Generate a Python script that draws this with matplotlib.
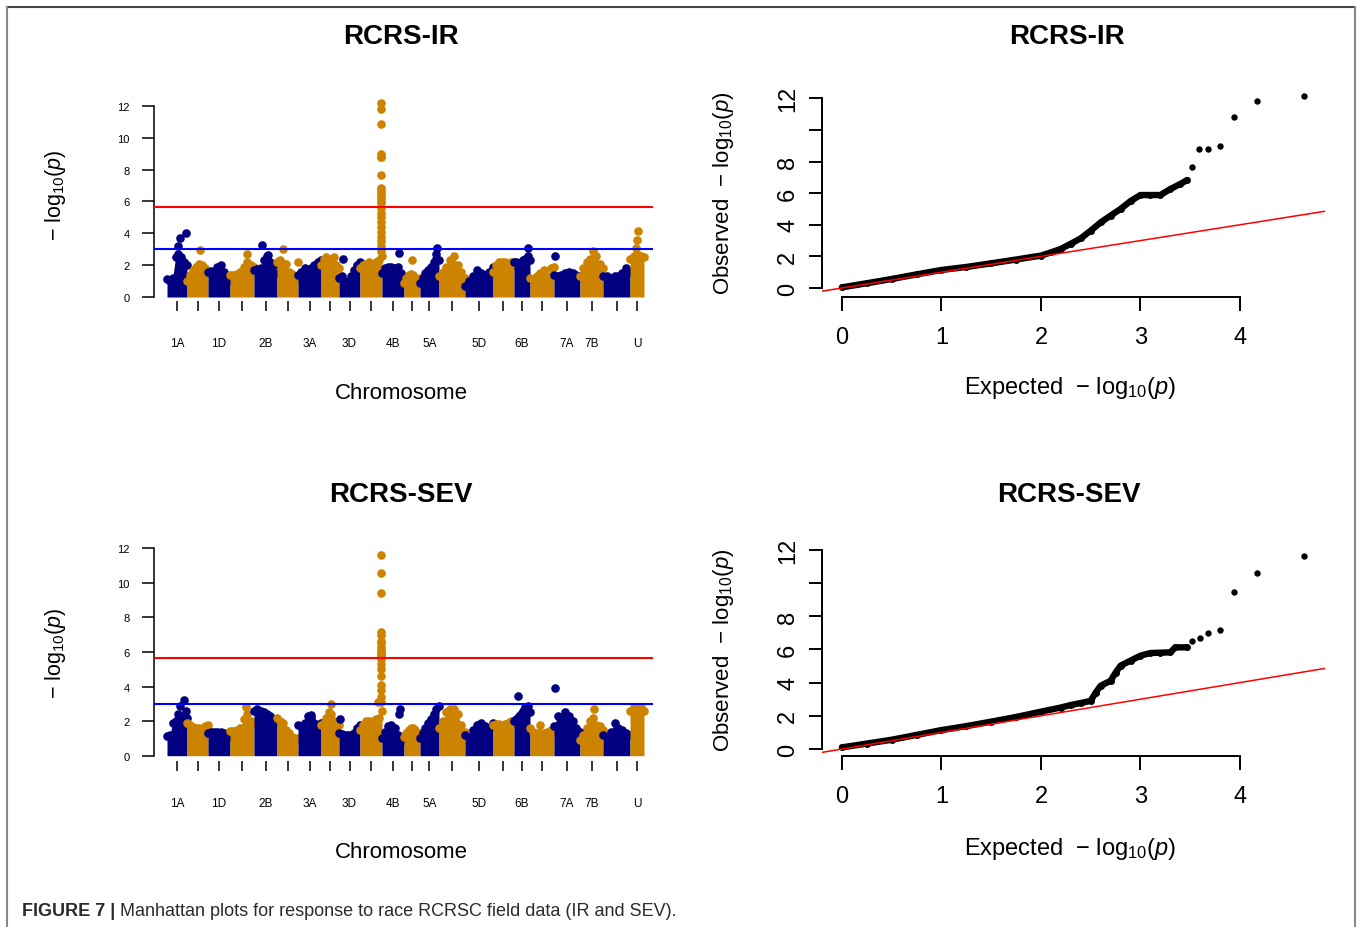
import numpy as np
import matplotlib
matplotlib.use("Agg")
import matplotlib.pyplot as plt
from matplotlib.lines import Line2D

plt.rcParams["font.family"] = ["Liberation Sans", "DejaVu Sans"]
plt.rcParams["mathtext.fontset"] = "custom"
plt.rcParams["mathtext.rm"] = "Liberation Sans"
plt.rcParams["mathtext.it"] = "Liberation Sans:italic"
plt.rcParams["mathtext.bf"] = "Liberation Sans:bold"

# chromosomes and their relative marker spans
chroms = ["1A", "1B", "1D", "2A", "2B", "2D", "3A", "3B", "3D", "4A", "4B",
          "4D", "5A", "5B", "5D", "6A", "6B", "6D", "7A", "7B", "7D", "U"]
chrom_span = [20, 21, 22, 24, 23, 21, 23, 18, 21, 22, 22,
              16, 19, 26, 28, 21, 16, 24, 26, 23, 27, 14]
chrom_ticklabels = ["1A", "", "1D", "", "2B", "", "3A", "", "3D", "", "4B",
                    "", "5A", "", "5D", "", "6B", "", "7A", "7B", "", "U"]

suggestive = 3.0
genomewide = 5.64

# RCRS-IR: upper envelope of each chromosome, left to right
ir_profile = [
    [1.1, 1.0, 1.2, 2.5, 2.7, 2.5, 2.2, 2.0],
    [1.0, 1.4, 1.7, 1.9, 2.1, 2.0, 1.8, 1.6],
    [1.6, 1.65, 1.6, 1.9, 2.0, 1.6, 1.2, 1.0],
    [1.4, 1.4, 1.45, 1.6, 1.9, 2.2, 2.0, 1.9],
    [1.7, 1.75, 1.8, 2.3, 2.6, 2.2, 2.0, 1.5],
    [2.2, 2.3, 2.1, 2.1, 1.6, 1.45, 1.3, 1.2],
    [1.4, 1.6, 1.8, 1.7, 1.8, 2.0, 2.2, 2.3],
    [2.0, 2.4, 2.5, 2.0, 2.4, 2.5, 2.0, 1.8],
    [1.2, 1.3, 1.0, 0.8, 1.3, 1.7, 2.0, 2.2],
    [1.8, 2.0, 2.1, 2.2, 2.1, 2.2, 2.3, 2.6],
    [1.5, 1.8, 1.9, 1.9, 1.8, 1.9, 1.5, 1.2],
    [0.9, 1.2, 1.4, 1.45, 1.4, 1.2, 1.1, 1.2],
    [0.9, 1.2, 1.5, 1.7, 1.9, 2.2, 2.4, 2.3],
    [1.3, 1.6, 1.9, 2.3, 2.6, 2.0, 1.6, 1.2],
    [0.7, 1.0, 1.3, 1.7, 1.5, 1.4, 1.6, 1.9],
    [1.6, 2.0, 2.2, 2.2, 2.2, 2.1, 2.2, 2.0],
    [2.2, 2.2, 2.1, 2.2, 2.3, 2.4, 2.6, 2.3],
    [1.2, 1.1, 1.3, 1.5, 1.7, 1.3, 1.8, 1.9],
    [1.4, 1.3, 1.4, 1.5, 1.6, 1.5, 1.4, 1.3],
    [1.3, 1.8, 2.2, 2.4, 2.9, 2.6, 2.1, 1.8],
    [1.3, 1.3, 1.2, 1.3, 1.3, 1.5, 1.8, 1.6],
    [2.4, 2.6, 2.7, 2.6, 2.5],
]
# isolated markers: (chromosome, relative position, -log10 p)
ir_hits = [("1A", 0.55, 3.2), ("1A", 0.65, 3.7), ("1A", 0.95, 4.05),
           ("1B", 0.6, 2.95), ("2A", 0.7, 2.7), ("2B", 0.35, 3.25),
           ("2B", 0.6, 2.65), ("2D", 0.3, 3.0), ("2D", 0.98, 2.2),
           ("3D", 0.2, 2.4), ("4B", 0.75, 2.75), ("4D", 0.5, 2.35),
           ("5A", 0.85, 2.7), ("5A", 0.92, 3.05), ("6B", 0.85, 3.05),
           ("7A", 0.05, 2.6), ("U", 0.4, 3.05), ("U", 0.5, 3.6),
           ("U", 0.6, 4.15)]
ir_peak_chrom, ir_peak_pos = "4A", 0.97
ir_peak_values = [12.17, 11.81, 10.84, 9.0, 8.77, 8.77, 7.68, 6.83, 6.7,
                  6.55, 6.4, 6.2, 6.0, 5.88, 5.6, 5.3, 5.0, 4.7, 4.4, 4.1,
                  3.8, 3.5, 3.2, 2.9]

# RCRS-SEV
sev_profile = [
    [1.15, 1.2, 1.9, 2.0, 2.1, 2.0, 2.3, 2.2],
    [1.9, 1.8, 1.65, 1.6, 1.6, 1.5, 1.7, 1.8],
    [1.3, 1.35, 1.35, 1.4, 1.35, 1.3, 1.2, 1.1],
    [1.45, 1.45, 1.5, 1.6, 2.1, 2.4, 2.0, 1.9],
    [2.6, 2.7, 2.6, 2.5, 2.4, 2.3, 2.1, 2.0],
    [2.2, 2.0, 1.9, 1.5, 1.3, 1.1, 1.0, 1.0],
    [1.8, 1.7, 1.9, 2.3, 2.2, 1.9, 1.8, 1.9],
    [1.8, 1.9, 2.2, 2.5, 2.4, 2.0, 1.9, 1.8],
    [1.3, 1.25, 1.2, 1.2, 1.2, 1.3, 1.6, 1.75],
    [1.5, 1.8, 2.0, 2.0, 2.0, 2.1, 2.2, 2.6],
    [1.0, 1.4, 1.7, 1.8, 1.6, 1.2, 1.0, 0.9],
    [1.1, 1.3, 1.5, 1.6, 1.6, 1.5, 1.3, 1.3],
    [1.0, 1.3, 1.6, 1.9, 2.1, 2.4, 2.7, 2.9],
    [1.6, 2.0, 2.5, 2.7, 2.7, 2.4, 1.8, 1.4],
    [1.2, 1.1, 1.5, 1.8, 1.9, 1.7, 1.6, 1.9],
    [1.8, 1.85, 1.85, 1.8, 1.85, 1.9, 2.0, 1.9],
    [2.0, 2.1, 2.3, 2.4, 2.6, 2.8, 2.9, 2.5],
    [1.6, 1.4, 1.3, 1.8, 1.3, 1.4, 1.5, 1.4],
    [1.7, 2.3, 2.2, 2.5, 2.3, 2.0, 1.6, 1.4],
    [0.9, 1.2, 1.6, 2.0, 2.2, 1.8, 1.7, 1.5],
    [1.2, 1.1, 1.4, 1.9, 1.6, 1.5, 1.3, 1.2],
    [2.6, 2.8, 2.8, 2.8, 2.6],
]
sev_hits = [("1A", 0.55, 2.4), ("1A", 0.65, 2.9), ("1A", 0.85, 3.25),
            ("1A", 0.95, 2.6), ("2A", 0.65, 2.8), ("3A", 0.55, 2.35),
            ("3B", 0.55, 3.0), ("3D", 0.05, 2.1), ("4A", 0.8, 3.1),
            ("4B", 0.8, 2.7), ("4B", 0.75, 2.4), ("6B", 0.25, 3.44),
            ("7A", 0.02, 3.92), ("7B", 0.6, 2.7)]
sev_peak_chrom, sev_peak_pos = "4A", 0.97
sev_peak_values = [11.6, 10.58, 9.43, 7.18, 6.96, 6.66, 6.52, 6.3, 6.12,
                   6.0, 5.82, 5.8, 5.6, 5.3, 5.0, 4.6, 4.1, 3.8, 3.4, 3.1]

# QQ: dense part of the curve and the separate top markers
ir_qq_exp = [0.0, 0.25, 0.5, 0.75, 1.0, 1.25, 1.5, 1.75, 2.0, 2.1, 2.2, 2.3,
             2.4, 2.5, 2.6, 2.7, 2.8, 2.9, 3.0, 3.1, 3.2, 3.3, 3.4, 3.47]
ir_qq_obs = [0.04, 0.3, 0.57, 0.86, 1.14, 1.33, 1.56, 1.8, 2.05, 2.25, 2.47,
             2.8, 3.14, 3.63, 4.15, 4.58, 5.0, 5.5, 5.88, 5.88, 5.88, 6.26,
             6.58, 6.83]
ir_qq_top_exp = [3.52, 3.59, 3.68, 3.80, 3.94, 4.17, 4.64]
ir_qq_top_obs = [7.68, 8.77, 8.77, 9.0, 10.84, 11.81, 12.17]

sev_qq_exp = [0.0, 0.25, 0.5, 0.75, 1.0, 1.25, 1.5, 1.75, 2.0, 2.2, 2.3, 2.4,
              2.5, 2.55, 2.6, 2.7, 2.75, 2.8, 2.9, 3.0, 3.1, 3.2, 3.3, 3.35,
              3.47]
sev_qq_obs = [0.1, 0.33, 0.56, 0.85, 1.14, 1.38, 1.65, 1.93, 2.25, 2.5, 2.65,
              2.77, 2.9, 3.4, 3.81, 4.11, 4.6, 5.02, 5.32, 5.62, 5.78, 5.8,
              5.82, 6.12, 6.12]
sev_qq_top_exp = [3.52, 3.60, 3.68, 3.80, 3.94, 4.17, 4.64]
sev_qq_top_obs = [6.52, 6.66, 6.96, 7.18, 9.43, 10.58, 11.6]

NAVY = "#000080"
GOLD = "#CC8400"
W, H = 1358, 928
DOT = 6.2

fig = plt.figure(figsize=(W / 100, H / 100), dpi=100)


def px_axes(x0, y0, x1, y1):
    return fig.add_axes([x0 / W, 1 - y1 / H, (x1 - x0) / W, (y1 - y0) / H])


def px_text(x, y, s, **kw):
    return fig.text(x / W, 1 - y / H, s, ha=kw.pop("ha", "center"),
                    va=kw.pop("va", "center"), **kw)


def manhattan(ax, profile, hits, peak_chrom, peak_pos, peak_values, ylim):
    span = np.array(chrom_span, dtype=float)
    starts = np.concatenate([[0], np.cumsum(span)[:-1]])
    ends = starts + span
    idx = {c: i for i, c in enumerate(chroms)}
    colors = [NAVY if i % 2 == 0 else GOLD for i in range(len(chroms))]

    for i, vals in enumerate(profile):
        xs = np.linspace(starts[i], ends[i], len(vals))
        ax.fill_between(xs, 0, vals, color=colors[i], lw=0, zorder=2)
        ax.plot(xs, vals, "o", color=colors[i], ms=DOT, mec="none", zorder=2)
    for c, pos, v in hits:
        i = idx[c]
        ax.plot(starts[i] + pos * span[i], v, "o", color=colors[i], ms=DOT,
                mec="none", zorder=2)
    i = idx[peak_chrom]
    px = np.full(len(peak_values), starts[i] + peak_pos * span[i])
    ax.plot(px, peak_values, "o", color=colors[i], ms=DOT, mec="none",
            zorder=2)

    ax.axhline(genomewide, color="#FF0000", lw=1.5, zorder=3)
    ax.axhline(suggestive, color="#0000FF", lw=1.5, zorder=3)

    ax.set_xlim(-13, span.sum() + 9)
    ax.set_ylim(ylim)
    for s in ["top", "right", "bottom"]:
        ax.spines[s].set_visible(False)
    ax.spines["left"].set_bounds(0, 12)
    ax.spines["left"].set_linewidth(1.1)
    ax.set_yticks(range(0, 13, 2))
    ax.tick_params(axis="y", length=8.6, width=1.1, pad=9, labelsize=8)
    ax.set_xticks((starts + ends) / 2)
    ax.set_xticklabels(chrom_ticklabels)
    ax.tick_params(axis="x", length=7.2, width=1.1, pad=19, labelsize=8.5)


def qq(ax, exp, obs, top_exp, top_obs, ylim):
    ax.plot(exp, obs, color="black", lw=4.6, solid_capstyle="round", zorder=2)
    ax.plot(exp, obs, "o", color="black", ms=5, mec="none", zorder=2)
    ax.plot(top_exp, top_obs, "o", color="black", ms=4.6, mec="none",
            zorder=2)
    ax.axline((0, 0), slope=1, color="#FF0000", lw=1.1, zorder=3)
    ax.set_xlim(-0.2, 4.854)
    ax.set_ylim(ylim)
    for s in ["top", "right"]:
        ax.spines[s].set_visible(False)
    ax.spines["left"].set_bounds(0, 12)
    ax.spines["bottom"].set_bounds(0, 4)
    for s in ["left", "bottom"]:
        ax.spines[s].set_linewidth(1.4)
    ax.set_xticks(range(5))
    ax.set_yticks(range(0, 13, 2))
    ax.set_yticklabels(["0", "2", "4", "6", "8", "", "12"], rotation=90,
                       va="center")
    ax.tick_params(axis="y", length=9.4, width=1.4, pad=7, labelsize=17)
    ax.tick_params(axis="x", length=10, width=1.4, pad=11, labelsize=17)


# upper row: RCRS-IR
ax1 = px_axes(154, 100, 653, 302)
manhattan(ax1, ir_profile, ir_hits, ir_peak_chrom, ir_peak_pos,
          ir_peak_values, (-0.251, 12.437))
ax2 = px_axes(822, 92, 1325, 297.7)
qq(ax2, ir_qq_exp, ir_qq_obs, ir_qq_top_exp, ir_qq_top_obs, (-0.55, 12.46))

# lower row: RCRS-SEV
ax3 = px_axes(154, 545, 653, 762)
manhattan(ax3, sev_profile, sev_hits, sev_peak_chrom, sev_peak_pos,
          sev_peak_values, (-0.307, 12.25))
ax4 = px_axes(822, 545, 1325, 756.7)
qq(ax4, sev_qq_exp, sev_qq_obs, sev_qq_top_exp, sev_qq_top_obs,
   (-0.40, 12.34))

# titles and axis labels
px_text(401, 37, "RCRS-IR", fontsize=20, fontweight="bold")
px_text(1067, 37, "RCRS-IR", fontsize=20, fontweight="bold")
px_text(401, 495, "RCRS-SEV", fontsize=20, fontweight="bold")
px_text(1069, 495, "RCRS-SEV", fontsize=20, fontweight="bold")

man_ylab = r"$-\ \mathrm{log}_{10}(p)$"
qq_ylab = r"Observed  $-\ \mathrm{log}_{10}(p)$"
qq_xlab = r"Expected  $-\ \mathrm{log}_{10}(p)$"
for y in (195, 653):
    px_text(56, y, man_ylab, fontsize=15.5, rotation=90)
for y in (394, 853):
    px_text(401, y, "Chromosome", fontsize=16)
for y in (193, 650):
    px_text(723, y, qq_ylab, fontsize=16, rotation=90)
for y in (388, 849):
    px_text(1070, y, qq_xlab, fontsize=17)

# caption
cap = px_text(22, 912, "FIGURE 7 |", fontsize=13, fontweight="bold",
              color="#2b2b2b", ha="left")
fig.canvas.draw()
bb = cap.get_window_extent()
px_text(bb.x1 + 5, 912,
        "Manhattan plots for response to race RCRSC field data (IR and SEV).",
        fontsize=13, color="#2b2b2b", ha="left")


# frame around the figure
def px_line(x0, y0, x1, y1, color):
    fig.add_artist(Line2D([x0 / W, x1 / W], [1 - y0 / H, 1 - y1 / H],
                          transform=fig.transFigure, color=color, lw=1.5))


px_line(7, 8, 1355, 8, "#444444")
px_line(7, 8, 7, 928, "#888888")
px_line(1355, 8, 1355, 928, "#888888")

fig.savefig("out.png", dpi=100)
